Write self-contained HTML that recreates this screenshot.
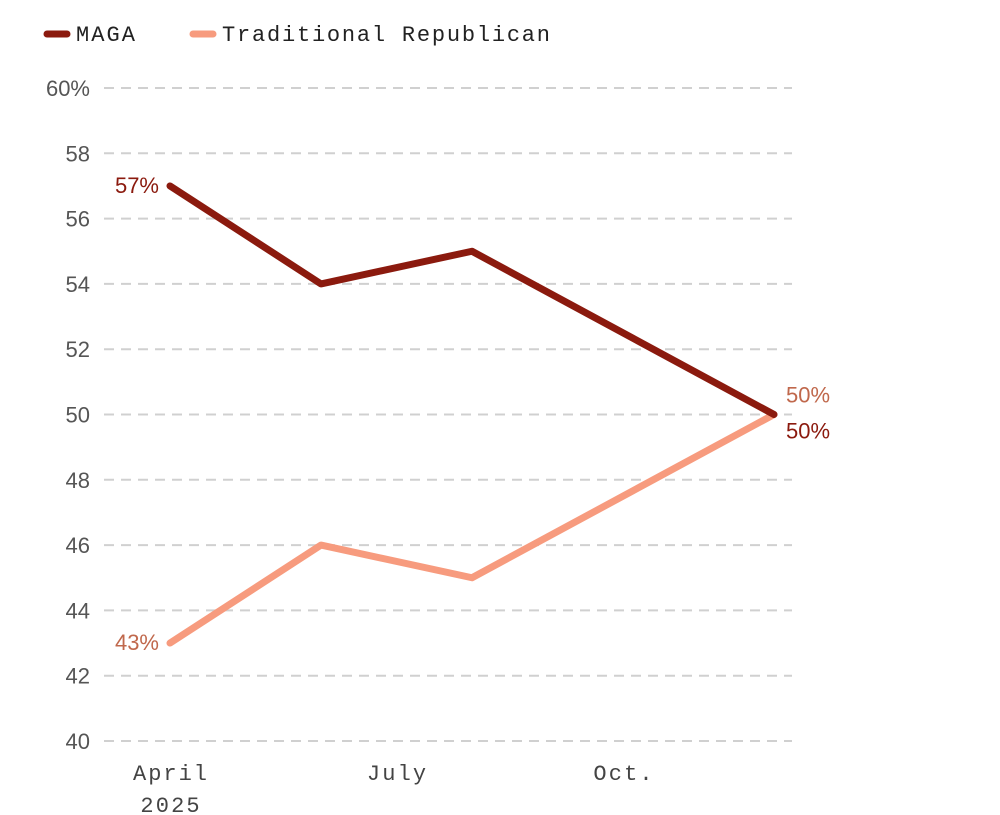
<!DOCTYPE html>
<html><head><meta charset="utf-8"><style>
html,body{margin:0;padding:0;background:#fff;width:1000px;height:815px;overflow:hidden}
svg{display:block}
.mono{font-family:"Liberation Mono",monospace}
.sans{font-family:"Liberation Sans",sans-serif}
</style></head><body>
<svg id="chart" width="1000" height="815">
<g>
<line x1="47" y1="34" x2="67" y2="34" stroke="#8b1a0e" stroke-width="7" stroke-linecap="round"/>
<text x="76" y="41" class="mono" font-size="22" fill="#222" textLength="59" lengthAdjust="spacing">MAGA</text>
<line x1="193" y1="34" x2="213" y2="34" stroke="#f79b7e" stroke-width="7" stroke-linecap="round"/>
<text x="222" y="41" class="mono" font-size="22" fill="#222" textLength="328" lengthAdjust="spacing">Traditional Republican</text>
</g>
<g id="grid"></g><g id="xaxis"></g><g id="series"></g><g id="labels"></g>
</svg>
<script>
const yTicks=[40,42,44,46,48,50,52,54,56,58,60];
const xTickMonths=[0,3,6];
const xTickLabels=[["April","2025"],["July"],["Oct."]];
const months=[0,2,4,8];
const magaValues=[57,54,55,50];
const tradValues=[43,46,45,50];
const NS="http://www.w3.org/2000/svg";
function y(v){return 741-(v-40)*(741-88)/20;}
function x(m){return 170+m*75.5;}
function el(t,a,p){const e=document.createElementNS(NS,t);for(const k in a)e.setAttribute(k,a[k]);p.appendChild(e);return e;}
const grid=document.getElementById('grid');
yTicks.forEach(v=>{
 const l=el('line',{x1:104,x2:792,y1:y(v),y2:y(v),stroke:'#d0d0d0','stroke-width':2,'stroke-dasharray':'10,7'},grid);
 
 
 const t=el('text',{x:90,y:y(v)+8,'text-anchor':'end','font-size':22,fill:'#555',class:'sans'},grid);
 t.textContent=v===60?'60%':String(v);
 
 
});
const xa=document.getElementById('xaxis');
xTickMonths.forEach((m,i)=>{
 xTickLabels[i].forEach((s,j)=>{
  const t=el('text',{x:x(m),y:780+j*32,'text-anchor':'middle','font-size':22,fill:'#444',class:'mono',textLength:s.length*14.8,lengthAdjust:'spacing'},xa);
  t.textContent=s;
  
  
 });
});
const sg=document.getElementById('series');
function line(vals,color,name){
 const p=el('polyline',{points:vals.map((v,i)=>x(months[i])+','+y(v)).join(' '),fill:'none',stroke:color,'stroke-width':7,'stroke-linejoin':'round','stroke-linecap':'round'},sg);
 
 
}
line(tradValues,'#f79b7e','line-traditional');
line(magaValues,'#8b1a0e','line-maga');
const lg=document.getElementById('labels');
function lab(txt,xx,yy,anchor,color,name){
 const t=el('text',{x:xx,y:yy,'text-anchor':anchor,'font-size':22,fill:color,class:'sans'},lg);
 t.textContent=txt;
 
 
}
const n=months.length-1;
lab(magaValues[0]+'%',x(months[0])-11,y(magaValues[0])+7,'end','#8b1a0e','label-maga-start');
lab(tradValues[0]+'%',x(months[0])-11,y(tradValues[0])+7,'end','#c0684c','label-traditional-start');
lab(tradValues[n]+'%',x(months[n])+12,y(tradValues[n])-12,'start','#c0684c','label-traditional-end');
lab(magaValues[n]+'%',x(months[n])+12,y(magaValues[n])+24,'start','#8b1a0e','label-maga-end');
</script>
</body></html>
